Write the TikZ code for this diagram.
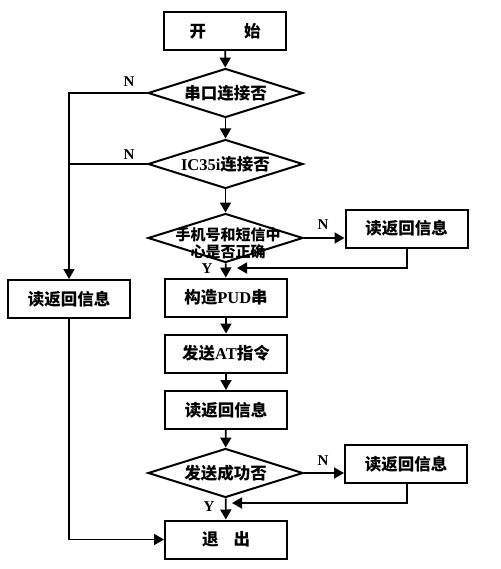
\documentclass[tikz,border=0pt]{standalone}
\usepackage{fontspec}
\setmainfont{Noto Sans CJK SC}
\newfontfamily\lat{Liberation Serif}
\usetikzlibrary{shapes.geometric,arrows.meta}
\tikzset{
  box/.style={draw,line width=2pt,minimum width=122pt,minimum height=38pt,inner sep=0pt,font=\fontsize{16.5}{18}\selectfont\bfseries},
  dia/.style={draw,shape=diamond,line width=2pt,minimum width=155pt,minimum height=49pt,inner sep=0pt,font=\fontsize{16.5}{18}\selectfont\bfseries},
  lab/.style={font=\fontsize{15}{16}\selectfont\lat\bfseries,inner sep=0pt},
  flow/.style={line width=1.8pt,-{Triangle[length=10pt,width=11pt]}},
  line/.style={line width=1.8pt}
}
\begin{document}
\begin{tikzpicture}[x=1pt,y=-1pt]
\useasboundingbox (0,0) rectangle (500,569);
\node[box] (start) at (225,31) {开\hspace{38pt}始};
\node[dia] (d1) at (225.5,93) {\makebox[0pt]{串口连接否}};
\node[dia] (d2) at (225.5,164) {\makebox[0pt]{{\lat IC35i}连接否}};
\node[dia] (d3) at (225.5,238) {};
\node[inner sep=0pt,align=center,font=\fontsize{15}{17}\selectfont\bfseries] (d3t) at (228,243) {手机号和短信中\\心是否正确};
\node[box] (r1) at (406.5,228.5) {读返回信息};
\node[box] (pud) at (226,297.5) {构造{\lat PUD}串};
\node[box] (at) at (226,353.5) {发送{\lat AT}指令};
\node[box] (rd) at (226,410) {读返回信息};
\node[dia] (d4) at (225.5,473) {\makebox[0pt]{发送成功否}};
\node[box] (r2) at (406,464) {读返回信息};
\node[box] (exit) at (226,539.5) {退\hspace{15pt}出};
\node[box] (lb) at (69,299) {读返回信息};
\coordinate (j1) at (237,268);
\coordinate (j2) at (232,503);
% main flow
\draw[flow] (start) -- (d1);
\draw[flow] (d1) -- (d2);
\draw[flow] (d2) -- (d3);
\draw[flow] (d3) -- (pud);
\draw[flow] (pud) -- (at);
\draw[flow] (at) -- (rd);
\draw[flow] (rd) -- (d4);
\draw[flow] (d4) -- (exit);
% left branch
\draw[flow] (d1.west) -| (lb.north);
\draw[line] (d2.west) -- (d2.west -| lb.north);
\draw[flow] (lb.south) |- (exit.west);
% right branches
\draw[flow] (d3.east) -- (d3.east -| r1.west);
\draw[flow] (r1.south -| 407,0) |- (j1);
\draw[flow] (d4.east) -- (d4.east -| r2.west);
\draw[flow] (r2.south -| 407,0) |- (j2);
% labels
\node[lab] (n1) at (129,82) {N};
\node[lab] (n2) at (129,155) {N};
\node[lab] (n3) at (323,225) {N};
\node[lab] (y3) at (207,269) {Y};
\node[lab] (n4) at (323,461) {N};
\node[lab] (y4) at (209,507) {Y};
\end{tikzpicture}
\end{document}
